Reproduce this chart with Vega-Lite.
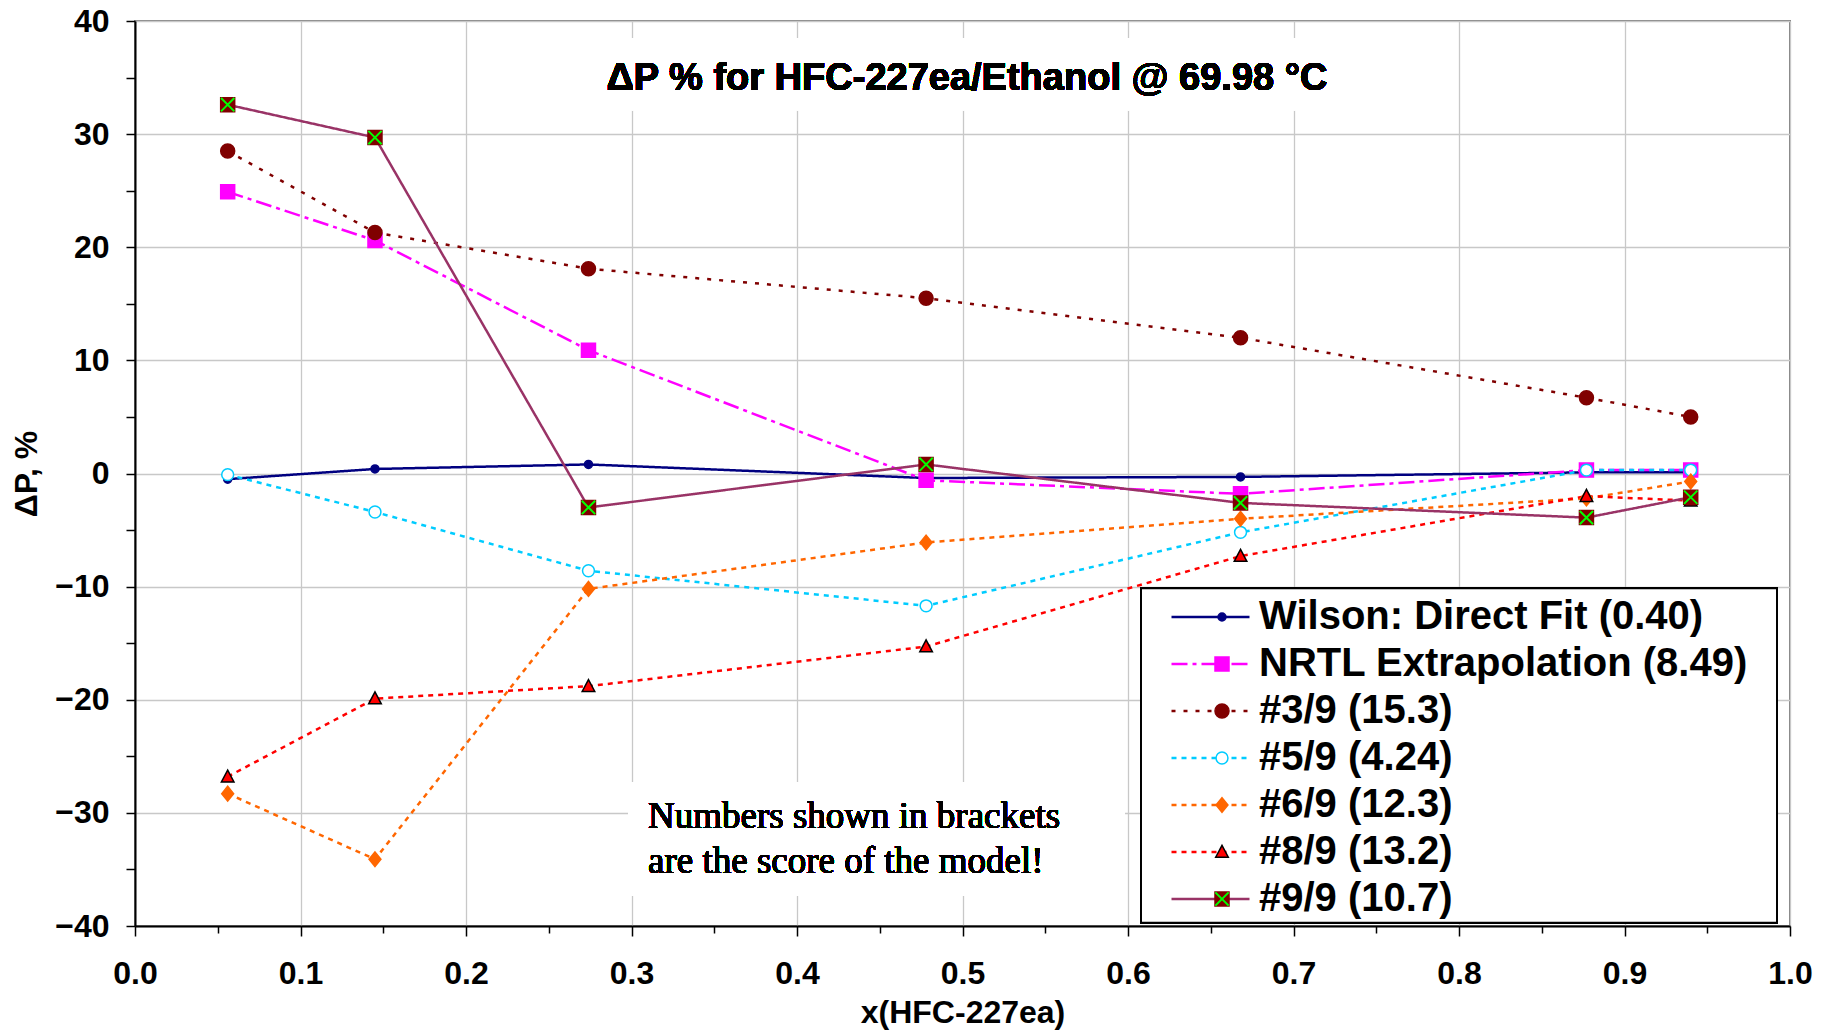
{
  "$schema": "https://vega.github.io/schema/vega-lite/v6.json",
  "width": 1655,
  "height": 905,
  "autosize": {"type": "none"},
  "padding": {"left": 135, "top": 21, "right": 40, "bottom": 107},
  "background": "white",
  "config": {
    "view": {"stroke": "#808080", "strokeWidth": 2},
    "font": "Liberation Sans"
  },
  "datasets": {
    "pts": [
      {"series": "Wilson: Direct Fit (0.40)", "x": 0.056, "y": -0.5},
      {"series": "Wilson: Direct Fit (0.40)", "x": 0.145, "y": 0.4},
      {"series": "Wilson: Direct Fit (0.40)", "x": 0.274, "y": 0.8},
      {"series": "Wilson: Direct Fit (0.40)", "x": 0.478, "y": -0.4},
      {"series": "Wilson: Direct Fit (0.40)", "x": 0.668, "y": -0.3},
      {"series": "Wilson: Direct Fit (0.40)", "x": 0.877, "y": 0.1},
      {"series": "Wilson: Direct Fit (0.40)", "x": 0.94, "y": 0.1},
      {"series": "NRTL Extrapolation (8.49)", "x": 0.056, "y": 24.9},
      {"series": "NRTL Extrapolation (8.49)", "x": 0.145, "y": 20.6},
      {"series": "NRTL Extrapolation (8.49)", "x": 0.274, "y": 10.9},
      {"series": "NRTL Extrapolation (8.49)", "x": 0.478, "y": -0.6},
      {"series": "NRTL Extrapolation (8.49)", "x": 0.668, "y": -1.8},
      {"series": "NRTL Extrapolation (8.49)", "x": 0.877, "y": 0.3},
      {"series": "NRTL Extrapolation (8.49)", "x": 0.94, "y": 0.3},
      {"series": "#3/9 (15.3)", "x": 0.056, "y": 28.5},
      {"series": "#3/9 (15.3)", "x": 0.145, "y": 21.3},
      {"series": "#3/9 (15.3)", "x": 0.274, "y": 18.1},
      {"series": "#3/9 (15.3)", "x": 0.478, "y": 15.5},
      {"series": "#3/9 (15.3)", "x": 0.668, "y": 12.0},
      {"series": "#3/9 (15.3)", "x": 0.877, "y": 6.7},
      {"series": "#3/9 (15.3)", "x": 0.94, "y": 5.0},
      {"series": "#5/9 (4.24)", "x": 0.056, "y": -0.1},
      {"series": "#5/9 (4.24)", "x": 0.145, "y": -3.4},
      {"series": "#5/9 (4.24)", "x": 0.274, "y": -8.6},
      {"series": "#5/9 (4.24)", "x": 0.478, "y": -11.7},
      {"series": "#5/9 (4.24)", "x": 0.668, "y": -5.2},
      {"series": "#5/9 (4.24)", "x": 0.877, "y": 0.3},
      {"series": "#5/9 (4.24)", "x": 0.94, "y": 0.3},
      {"series": "#6/9 (12.3)", "x": 0.056, "y": -28.3},
      {"series": "#6/9 (12.3)", "x": 0.145, "y": -34.1},
      {"series": "#6/9 (12.3)", "x": 0.274, "y": -10.2},
      {"series": "#6/9 (12.3)", "x": 0.478, "y": -6.1},
      {"series": "#6/9 (12.3)", "x": 0.668, "y": -4.0},
      {"series": "#6/9 (12.3)", "x": 0.877, "y": -2.2},
      {"series": "#6/9 (12.3)", "x": 0.94, "y": -0.7},
      {"series": "#8/9 (13.2)", "x": 0.056, "y": -26.8},
      {"series": "#8/9 (13.2)", "x": 0.145, "y": -19.9},
      {"series": "#8/9 (13.2)", "x": 0.274, "y": -18.8},
      {"series": "#8/9 (13.2)", "x": 0.478, "y": -15.3},
      {"series": "#8/9 (13.2)", "x": 0.668, "y": -7.3},
      {"series": "#8/9 (13.2)", "x": 0.877, "y": -2.0},
      {"series": "#8/9 (13.2)", "x": 0.94, "y": -2.4},
      {"series": "#9/9 (10.7)", "x": 0.056, "y": 32.6},
      {"series": "#9/9 (10.7)", "x": 0.145, "y": 29.7},
      {"series": "#9/9 (10.7)", "x": 0.274, "y": -3.0},
      {"series": "#9/9 (10.7)", "x": 0.478, "y": 0.8},
      {"series": "#9/9 (10.7)", "x": 0.668, "y": -2.6},
      {"series": "#9/9 (10.7)", "x": 0.877, "y": -3.9},
      {"series": "#9/9 (10.7)", "x": 0.94, "y": -2.1}
    ]
  },
  "data": {"name": "pts"},
  "layer": [
    {
      "mark": {"type": "rect", "fill": "white"},
      "encoding": {
        "x": {"datum": 0.275, "type": "quantitative", "scale": {"domain": [0, 1], "nice": false, "zero": false}},
        "x2": {"datum": 0.73},
        "y": {"datum": 38.5, "type": "quantitative", "scale": {"domain": [-40, 40], "nice": false}},
        "y2": {"datum": 32.1}
      }
    },
    {
      "mark": {"type": "rect", "fill": "white"},
      "encoding": {
        "x": {"datum": 0.298, "type": "quantitative"},
        "x2": {"datum": 0.598},
        "y": {"datum": -27.3, "type": "quantitative"},
        "y2": {"datum": -37.3}
      }
    },
    {
      "mark": {"type": "rect", "fill": "white", "stroke": "black", "strokeWidth": 1.5},
      "encoding": {
        "x": {"datum": 0.608, "type": "quantitative"},
        "x2": {"datum": 0.992},
        "y": {"datum": -10.17, "type": "quantitative"},
        "y2": {"datum": -39.7}
      }
    },
    {
      "mark": {"type": "line", "strokeWidth": 2.5},
      "encoding": {
        "x": {
          "field": "x", "type": "quantitative",
          "scale": {"domain": [0, 1], "nice": false, "zero": false},
          "axis": {
            "title": "x(HFC-227ea)",
            "values": [0, 0.05, 0.1, 0.15, 0.2, 0.25, 0.3, 0.35, 0.4, 0.45, 0.5, 0.55, 0.6, 0.65, 0.7, 0.75, 0.8, 0.85, 0.9, 0.95, 1],
            "labelExpr": "abs(datum.value*10 - round(datum.value*10)) < 0.01 ? format(datum.value, '.1f') : ''",
            "grid": true,
            "gridColor": "#c8c8c8",
            "gridWidth": 1.3,
            "gridOpacity": {"condition": {"test": "abs(datum.value*10 - round(datum.value*10)) < 0.01", "value": 1}, "value": 0},
            "tickSize": {"condition": {"test": "abs(datum.value*10 - round(datum.value*10)) < 0.01", "value": 10}, "value": 7},
            "tickColor": "black",
            "tickWidth": 1.5,
            "domainColor": "black",
            "domainWidth": 2,
            "labelFont": "Liberation Sans",
            "labelFontSize": 32,
            "labelFontWeight": "bold",
            "labelColor": "black",
            "labelPadding": 22,
            "labelOverlap": false,
            "labelFlush": false,
            "titleFont": "Liberation Sans",
            "titleFontSize": 32,
            "titleFontWeight": "bold",
            "titleColor": "black",
            "titlePadding": 8
          }
        },
        "y": {
          "field": "y", "type": "quantitative",
          "scale": {"domain": [-40, 40], "nice": false},
          "axis": {
            "title": "ΔP, %",
            "values": [-40, -35, -30, -25, -20, -15, -10, -5, 0, 5, 10, 15, 20, 25, 30, 35, 40],
            "labelExpr": "datum.value % 10 === 0 ? datum.label : ''",
            "grid": true,
            "gridColor": "#c8c8c8",
            "gridWidth": 1.3,
            "gridOpacity": {"condition": {"test": "datum.value % 10 === 0", "value": 1}, "value": 0},
            "tickSize": 9,
            "tickColor": "black",
            "tickWidth": 1.5,
            "domainColor": "black",
            "domainWidth": 2,
            "labelFont": "Liberation Sans",
            "labelFontSize": 32,
            "labelFontWeight": "bold",
            "labelColor": "black",
            "labelPadding": 17,
            "labelOverlap": false,
            "labelFlush": false,
            "titleFont": "Liberation Sans",
            "titleFontSize": 32,
            "titleFontWeight": "bold",
            "titleColor": "black",
            "titlePadding": 11
          }
        },
        "color": {
          "field": "series", "type": "nominal", "sort": null,
          "scale": {"range": ["#000080", "#FF00FF", "#800000", "#00CCFF", "#FF6600", "#FF0000", "#993366"]},
          "legend": {
            "title": null, "orient": "none", "legendX": 1035, "legendY": 576,
            "symbolType": "stroke", "symbolSize": 6084, "symbolStrokeWidth": 2.5,
            "clipHeight": 40, "rowPadding": 7, "padding": 0,
            "labelFont": "Liberation Sans", "labelFontSize": 40, "labelFontWeight": "bold",
            "labelColor": "black", "labelOffset": 8, "labelLimit": 1000
          }
        },
        "strokeDash": {
          "field": "series", "type": "nominal", "sort": null,
          "scale": {"range": [[1, 0], [16, 5, 4, 5], [4, 8], [5, 5], [5, 5], [5, 5], [1, 0]]},
          "legend": {
            "title": null, "orient": "none", "legendX": 1035, "legendY": 576,
            "symbolType": "stroke", "symbolSize": 6084, "symbolStrokeWidth": 2.5,
            "clipHeight": 40, "rowPadding": 7, "padding": 0,
            "labelFont": "Liberation Sans", "labelFontSize": 40, "labelFontWeight": "bold",
            "labelColor": "black", "labelOffset": 8, "labelLimit": 1000
          }
        }
      }
    },
    {
      "mark": {"type": "point", "size": 196, "strokeWidth": 1.5, "opacity": 1, "filled": true},
      "encoding": {
        "x": {"field": "x", "type": "quantitative"},
        "y": {"field": "y", "type": "quantitative"},
        "fill": {
          "field": "series", "type": "nominal",
          "scale": {
            "domain": ["Wilson: Direct Fit (0.40)", "NRTL Extrapolation (8.49)", "#3/9 (15.3)", "#5/9 (4.24)", "#6/9 (12.3)", "#8/9 (13.2)", "#9/9 (10.7)"],
            "range": ["#000080", "#FF00FF", "#800000", "#FFFFFF", "#FF6600", "#FF0000", "#800000"]
          },
          "legend": {
            "title": null, "orient": "none", "legendX": 1067, "legendY": 576,
            "symbolSize": 196, "symbolStrokeWidth": 1.5,
            "clipHeight": 40, "rowPadding": 7, "padding": 0,
            "labelExpr": "''", "labelFontSize": 40, "labelOffset": 8
          }
        },
        "stroke": {
          "field": "series", "type": "nominal",
          "scale": {
            "domain": ["Wilson: Direct Fit (0.40)", "NRTL Extrapolation (8.49)", "#3/9 (15.3)", "#5/9 (4.24)", "#6/9 (12.3)", "#8/9 (13.2)", "#9/9 (10.7)"],
            "range": ["#000080", "#FF00FF", "#800000", "#00CCFF", "#FF6600", "#000000", "#800000"]
          },
          "legend": {
            "title": null, "orient": "none", "legendX": 1067, "legendY": 576,
            "symbolSize": 196, "symbolStrokeWidth": 1.5,
            "clipHeight": 40, "rowPadding": 7, "padding": 0,
            "labelExpr": "''", "labelFontSize": 40, "labelOffset": 8
          }
        },
        "shape": {
          "field": "series", "type": "nominal",
          "scale": {
            "domain": ["Wilson: Direct Fit (0.40)", "NRTL Extrapolation (8.49)", "#3/9 (15.3)", "#5/9 (4.24)", "#6/9 (12.3)", "#8/9 (13.2)", "#9/9 (10.7)"],
            "range": [
              "M-0.57,0A0.57,0.57,0,1,0,0.57,0A0.57,0.57,0,1,0,-0.57,0Z",
              "square",
              "circle",
              "M-0.85,0A0.85,0.85,0,1,0,0.85,0A0.85,0.85,0,1,0,-0.85,0Z",
              "M0,-1.05L0.85,0L0,1.05L-0.85,0Z",
              "M0,-0.95L0.9,0.75L-0.9,0.75Z",
              "square"
            ]
          },
          "legend": {
            "title": null, "orient": "none", "legendX": 1067, "legendY": 576,
            "symbolSize": 196, "symbolStrokeWidth": 1.5,
            "clipHeight": 40, "rowPadding": 7, "padding": 0,
            "labelExpr": "''", "labelFontSize": 40, "labelOffset": 8
          }
        }
      }
    },
    {
      "transform": [{"filter": "datum.series === '#9/9 (10.7)'"}],
      "mark": {"type": "point", "shape": "M-0.95,-0.95L0.95,0.95M0.95,-0.95L-0.95,0.95", "size": 196, "stroke": "#00FF00", "strokeWidth": 2, "filled": false},
      "encoding": {
        "x": {"field": "x", "type": "quantitative"},
        "y": {"field": "y", "type": "quantitative"},
        "opacity": {
          "field": "series", "type": "nominal",
          "scale": {"range": [1, 1]},
          "legend": {
            "title": null, "orient": "none", "legendX": 1067, "legendY": 858,
            "symbolType": "M-0.95,-0.95L0.95,0.95M0.95,-0.95L-0.95,0.95",
            "symbolSize": 196, "symbolStrokeWidth": 2, "symbolStrokeColor": "#00FF00", "symbolFillColor": "transparent",
            "clipHeight": 40, "rowPadding": 7, "padding": 0,
            "labelExpr": "''", "labelFontSize": 40, "labelOffset": 8
          }
        }
      }
    },
    {
      "mark": {"type": "text", "font": "Liberation Sans", "fontSize": 38, "fontWeight": "bold", "color": "black", "align": "center", "baseline": "alphabetic"},
      "encoding": {
        "x": {"datum": 0.5027, "type": "quantitative"},
        "y": {"datum": 33.86, "type": "quantitative"},
        "text": {"value": "ΔP % for HFC-227ea/Ethanol @ 69.98 °C"}
      }
    },
    {
      "mark": {"type": "text", "font": "Liberation Serif", "fontSize": 37, "fontWeight": "normal", "color": "black", "align": "left", "baseline": "alphabetic", "lineHeight": 45},
      "encoding": {
        "x": {"datum": 0.31, "type": "quantitative"},
        "y": {"datum": -31.3, "type": "quantitative"},
        "text": {"value": ["Numbers shown in brackets", "are the score of the model!"]}
      }
    }
  ]
}
